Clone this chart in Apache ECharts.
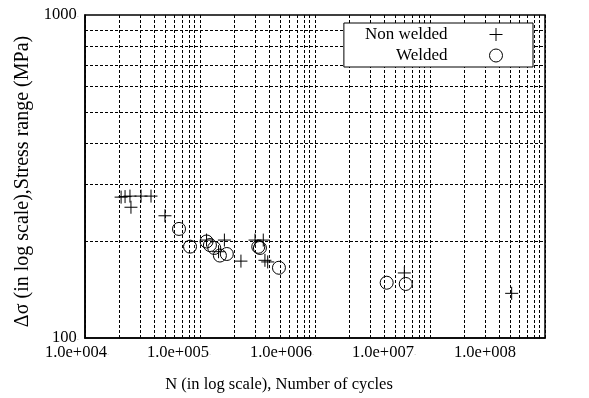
<!DOCTYPE html>
<html>
<head>
<meta charset="utf-8">
<script src="https://cdn.jsdelivr.net/npm/echarts@6/dist/echarts.min.js"></script>
<style>
  html, body { margin: 0; padding: 0; background: #fff; }
  #chart { width: 589px; height: 398px; }
</style>
</head>
<body>
<div id="chart"></div>
<script>
// [N cycles, stress range MPa]
const nonWelded = [
  [2.06e4, 273], [2.23e4, 274], [2.46e4, 275], [2.51e4, 254], [3.07e4, 275],
  [3.75e4, 275], [4.96e4, 239], [1.14e5, 201], [1.45e5, 185], [1.63e5, 201],
  [2.27e5, 173], [3.01e5, 201], [3.55e5, 201], [3.67e5, 174], [3.88e5, 172],
  [5.98e6, 159], [5.13e7, 137.5]
];
const welded = [
  [6.57e4, 217.6], [8.19e4, 191.8], [1.14e5, 199], [1.22e5, 194], [1.33e5, 190],
  [1.49e5, 180], [1.71e5, 182], [3.21e5, 191.6], [3.32e5, 190], [4.86e5, 165],
  [4.2e6, 148.3], [6.15e6, 147]
];
const xTickLabels = ['1.0e+004', '1.0e+005', '1.0e+006', '1.0e+007', '1.0e+008'];
const yTickLabels = ['100', '1000'];
// minor log grid lines
const xMinor = [
  2e4, 3e4, 4e4, 5e4, 6e4, 7e4, 8e4, 9e4,
  2e5, 3e5, 4e5, 5e5, 6e5, 7e5, 8e5, 9e5,
  2e6, 3e6, 4e6, 5e6, 6e6, 7e6, 8e6, 9e6,
  2e7, 3e7, 4e7, 5e7, 6e7, 7e7, 8e7, 9e7
];
const yMinor = [200, 300, 400, 500, 600, 700, 800, 900];

const font = 'Liberation Serif';
const gridDash = { color: '#000', width: 1, type: [3, 2] };
// labels in the original drift left of their ticks
const xLabelPad = [16, 42, 66, 92, 120];

const myChart = echarts.init(document.querySelector('#chart'), null, { renderer: 'canvas' });

const option = {
  animation: false,
  backgroundColor: '#fff',
  grid: {
    left: 85, right: 44, top: 15, bottom: 60,
    show: true, borderColor: '#000', borderWidth: 1.5
  },
  legend: {
    orient: 'vertical',
    align: 'right',
    right: 56,
    top: 23,
    z: 20,
    padding: [3, 30, 3, 21],
    itemGap: 4,
    itemWidth: 13,
    itemHeight: 13,
    borderColor: '#000',
    borderWidth: 1,
    backgroundColor: '#fff',
    itemStyle: { borderWidth: 1 },
    textStyle: { fontFamily: font, fontSize: 17, color: '#000', padding: [0, 37, 0, 0] },
    data: ['Non welded', 'Welded']
  },
  xAxis: {
    type: 'log',
    logBase: 10,
    min: 1e4,
    max: 1e8,
    interval: 1,
    name: 'N (in log scale), Number of cycles',
    nameLocation: 'middle',
    nameGap: 38,
    nameTextStyle: { fontFamily: font, fontSize: 16.5, color: '#000', padding: [0, 72, 0, 0] },
    axisLine: { lineStyle: { color: '#000', width: 1.5 } },
    axisTick: { show: false },
    axisLabel: {
      margin: 6,
      formatter(value) {
        const i = Math.round(Math.log10(value)) - 4;
        return `{t|${xTickLabels[i]}}{p${i}|${i < 4 ? '.' : ''}}`;
      },
      rich: {
        t: { fontFamily: font, fontSize: 16.5, color: '#000' },
        p0: { fontSize: 8, color: '#aaa', padding: [0, xLabelPad[0], 0, 0] },
        p1: { fontSize: 8, color: '#aaa', padding: [0, xLabelPad[1], 0, 0] },
        p2: { fontSize: 8, color: '#aaa', padding: [0, xLabelPad[2], 0, 0] },
        p3: { fontSize: 8, color: '#aaa', padding: [0, xLabelPad[3], 0, 0] },
        p4: { fontSize: 8, color: '#aaa', padding: [0, xLabelPad[4], 0, 0] }
      }
    },
    splitLine: { show: true, lineStyle: gridDash }
  },
  yAxis: {
    type: 'log',
    logBase: 10,
    min: 100,
    max: 1000,
    interval: 1,
    name: 'Δσ (in log scale),Stress range (MPa)',
    nameLocation: 'middle',
    nameGap: 52,
    nameTextStyle: { fontFamily: font, fontSize: 20, color: '#000', padding: [0, 10, 0, 0] },
    axisLine: { lineStyle: { color: '#000', width: 1.5 } },
    axisTick: { show: false },
    axisLabel: {
      margin: 6,
      formatter(value) {
        const i = Math.round(Math.log10(value)) - 2;
        return `{t|${yTickLabels[i]}}{d|.}`;
      },
      rich: {
        t: { fontFamily: font, fontSize: 16.5, color: '#000' },
        d: { fontSize: 8, color: '#aaa' }
      }
    },
    splitLine: { show: false }
  },
  series: [
    {
      name: 'grid',
      type: 'scatter',
      data: [],
      silent: true,
      z: 1,
      markLine: {
        silent: true,
        symbol: 'none',
        animation: false,
        label: { show: false },
        lineStyle: gridDash,
        data: xMinor.map(v => ({ xAxis: v })).concat(yMinor.map(v => ({ yAxis: v })))
      }
    },
    {
      name: 'Non welded',
      type: 'scatter',
      z: 3,
      symbol: 'path://M0,6H12M6,0V12',
      symbolSize: 13,
      itemStyle: { color: 'rgba(0,0,0,0)', borderColor: '#000', borderWidth: 1, opacity: 1 },
      data: nonWelded
    },
    {
      name: 'Welded',
      type: 'scatter',
      z: 3,
      symbol: 'circle',
      symbolSize: 13,
      itemStyle: { color: 'rgba(0,0,0,0)', borderColor: '#000', borderWidth: 1, opacity: 1 },
      data: welded
    }
  ]
};

myChart.setOption(option);

window.addEventListener('resize', function() {
  myChart.resize();
});
</script>
</body>
</html>
